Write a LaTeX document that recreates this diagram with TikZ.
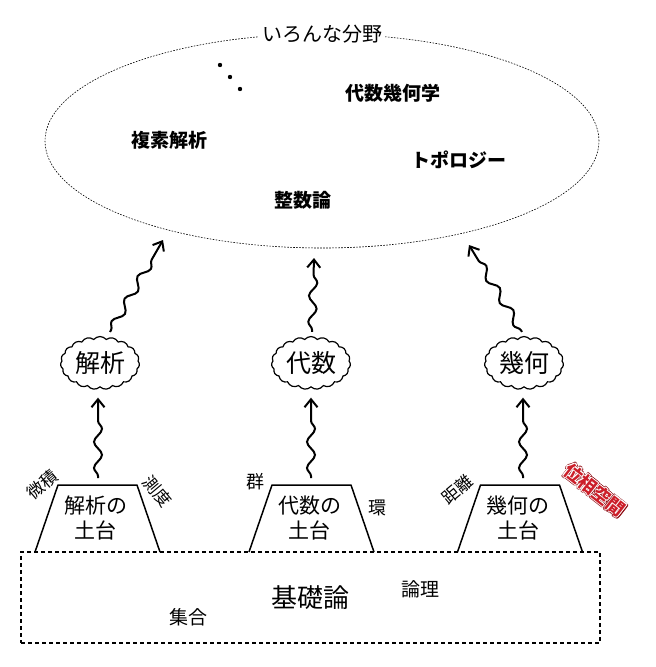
\documentclass[tikz,border=0pt]{standalone}
\usepackage{fontspec}
\setmainfont{Noto Sans CJK JP}
\usetikzlibrary{positioning}
\usetikzlibrary{shapes.geometric,shapes.symbols}
\usetikzlibrary{decorations.pathmorphing}
\usetikzlibrary{arrows.meta}
\definecolor{topored}{HTML}{cc1f2a}
\definecolor{topodark}{HTML}{8e0f16}

\tikzset{
  wave/.style={line width=2pt, -{Straight Barb[length=8pt,width=13pt,line width=2pt]},
    decorate, decoration={snake, amplitude=4pt, segment length=26pt, pre length=2pt, post length=11pt}},
  mount/.style={line width=1.5pt, line join=round},
  cloudbox/.style={cloud, draw, line width=1.2pt, cloud puffs=19, cloud puff arc=100, aspect=1.6,
    inner sep=2pt, minimum width=76pt, minimum height=48pt, font=\fontsize{25}{25}\selectfont},
  field/.style={font=\fontsize{19}{19}\selectfont\bfseries},
  side/.style={font=\fontsize{18}{18}\selectfont, inner sep=0pt},
  topo/.style={font=\fontsize{18}{18}\selectfont\bfseries, rotate=-38, inner sep=0pt}
}

\begin{document}
\begin{tikzpicture}[x=1pt,y=-1pt]
\useasboundingbox (0,0) rectangle (656,667);

% the many fields
\node[ellipse, draw, line width=0.6pt, dash pattern=on 1.6pt off 1.4pt,
  minimum width=554pt, minimum height=214pt] (fields) at (322,141) {};
\node[fill=white, inner sep=3pt, font=\fontsize{20}{20}\selectfont] (title) at (fields.north) {いろんな分野};
\node[field] (algeo) at (393,93) {代数幾何学};
\node[field] (cplx) at (169,140) {複素解析};
\node[field] (topol) at (459,160) {トポロジー};
\node[field] (numth) at (303,200) {整数論};
\foreach \p in {(220,65),(230,77),(240,89)} \fill \p circle (2.2pt);

% foundations
\node[draw, line width=1.2pt, dash pattern=on 4pt off 3pt, minimum width=579pt, minimum height=91pt,
  font=\fontsize{26}{26}\selectfont] (base) at (310.5,597.5) {基礎論};
\node[side, font=\fontsize{19}{19}\selectfont] (logic) at (420,589) {論理};
\node[side, font=\fontsize{19}{19}\selectfont] (sets) at (188,617) {集合};

% the three pedestals
\foreach \x/\t/\i in {97.5/解析/a, 311.5/代数/b, 520/幾何/c} {
  \coordinate (\i-bl) at (\x-62.5,552);
  \coordinate (\i-tl) at (\x-39.5,485);
  \coordinate (\i-tr) at (\x+39.5,485);
  \coordinate (\i-br) at (\x+62.5,552);
  \draw[mount] (\i-bl) -- (\i-tl) -- (\i-tr) -- (\i-br);
  \node[align=center, inner sep=0pt, font=\fontsize{21}{25}\selectfont] (ped-\i) at (\x-2,518) {\t の\\土台};
}

% the three clouds
\node[cloudbox] (cl-a) at (100,363) {解析};
\node[cloudbox] (cl-b) at (311,363) {代数};
\node[cloudbox] (cl-c) at (524,363) {幾何};

\coordinate (foot-a) at (98,478);
\coordinate (foot-b) at (311,478);
\coordinate (foot-c) at (523,478);
\draw[wave] (foot-a) -- ([yshift=-10pt]cl-a.south -| foot-a);
\draw[wave] (foot-b) -- ([yshift=-10pt]cl-b.south -| foot-b);
\draw[wave] (foot-c) -- ([yshift=-10pt]cl-c.south -| foot-c);

\coordinate (tip-a) at (163,240);
\coordinate (tip-b) at (314,258);
\coordinate (tip-c) at (469,245);
\draw[wave] ([xshift=10pt,yshift=4pt]cl-a.north) -- (tip-a);
\draw[wave] ([xshift=1pt,yshift=4pt]cl-b.north) -- (tip-b);
\draw[wave] ([xshift=-2pt,yshift=4pt]cl-c.north) -- (tip-c);

% side words
\node[side, font=\fontsize{17}{17}\selectfont, rotate=40] (calc) at (42,485) {微積};
\node[side, font=\fontsize{17}{17}\selectfont, rotate=-50] (meas) at (157,491) {測度};
\node[side] (group) at (255,482) {群};
\node[side] (ring) at (377,508) {環};
\node[side, font=\fontsize{17}{17}\selectfont, rotate=40] (metric) at (457,490) {距離};
\foreach \a in {0,45,...,315} \node[topo, text=topodark, shift={(\a:1.6pt)}] at (595,490) {位相空間};
\foreach \a in {0,60,...,300} \node[topo, text=white, shift={(\a:0.8pt)}] at (595,490) {位相空間};
\node[topo, text=topored] (topsp) at (595,490) {位相空間};
\end{tikzpicture}
\end{document}
